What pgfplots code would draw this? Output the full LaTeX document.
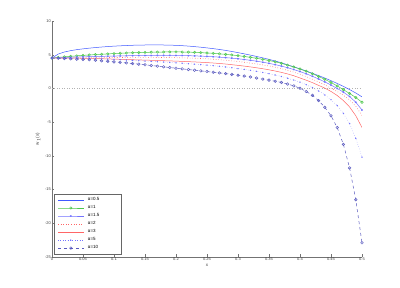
\documentclass[border=0pt]{standalone}
\usepackage{fontspec}
\setmainfont{Liberation Sans}
\usepackage{pgfplots}
\usepackage{pgfplotstable}
\pgfplotsset{compat=1.18}
\pgfplotstableread{
x a05 a1 a15 a2 a3 a5 a10
0.00 4.50 4.50 4.50 4.50 4.50 4.50 4.50
0.01 5.10 4.60 4.54 4.51 4.50 4.50 4.47
0.02 5.40 4.68 4.58 4.52 4.50 4.49 4.43
0.03 5.60 4.76 4.62 4.53 4.49 4.48 4.39
0.04 5.75 4.83 4.65 4.54 4.48 4.47 4.34
0.05 5.87 4.90 4.68 4.55 4.47 4.45 4.30
0.06 5.97 4.96 4.71 4.56 4.45 4.43 4.25
0.07 6.06 5.02 4.74 4.57 4.43 4.41 4.18
0.08 6.14 5.07 4.76 4.57 4.41 4.38 4.10
0.09 6.21 5.12 4.78 4.58 4.38 4.34 4.02
0.10 6.27 5.17 4.80 4.58 4.35 4.30 3.94
0.11 6.32 5.21 4.82 4.59 4.32 4.26 3.86
0.12 6.36 5.25 4.84 4.59 4.29 4.21 3.78
0.13 6.40 5.29 4.86 4.60 4.26 4.16 3.69
0.14 6.42 5.32 4.87 4.60 4.23 4.11 3.60
0.15 6.44 5.35 4.88 4.60 4.20 4.06 3.50
0.16 6.45 5.37 4.89 4.60 4.17 4.01 3.40
0.17 6.45 5.39 4.90 4.59 4.14 3.96 3.30
0.18 6.44 5.40 4.90 4.59 4.11 3.91 3.20
0.19 6.42 5.41 4.90 4.58 4.08 3.86 3.10
0.20 6.39 5.41 4.89 4.56 4.05 3.80 3.00
0.21 6.34 5.40 4.88 4.54 4.01 3.74 2.90
0.22 6.28 5.38 4.86 4.51 3.97 3.67 2.80
0.23 6.20 5.35 4.83 4.48 3.93 3.60 2.70
0.24 6.11 5.31 4.79 4.44 3.88 3.53 2.60
0.25 6.01 5.26 4.75 4.40 3.83 3.45 2.50
0.26 5.90 5.20 4.70 4.33 3.77 3.37 2.40
0.27 5.78 5.13 4.64 4.26 3.70 3.28 2.30
0.28 5.64 5.05 4.57 4.18 3.62 3.18 2.20
0.29 5.48 4.96 4.49 4.09 3.52 3.07 2.08
0.30 5.31 4.86 4.40 3.99 3.42 2.95 1.96
0.31 5.13 4.74 4.29 3.88 3.31 2.82 1.83
0.32 4.94 4.61 4.17 3.76 3.19 2.68 1.70
0.33 4.74 4.47 4.04 3.63 3.06 2.53 1.54
0.34 4.53 4.31 3.89 3.49 2.92 2.37 1.38
0.35 4.31 4.14 3.72 3.33 2.76 2.19 1.23
0.36 4.07 3.95 3.53 3.15 2.58 1.99 1.07
0.37 3.80 3.72 3.31 2.93 2.38 1.77 0.88
0.38 3.50 3.45 3.07 2.68 2.15 1.52 0.65
0.39 3.20 3.18 2.80 2.41 1.88 1.24 0.38
0.40 2.90 2.88 2.50 2.12 1.55 0.92 0.02
0.41 2.58 2.55 2.17 1.75 1.22 0.55 -0.45
0.42 2.25 2.18 1.80 1.37 0.86 0.12 -1.02
0.43 1.90 1.78 1.40 0.96 0.45 -0.38 -1.80
0.44 1.54 1.35 0.97 0.52 0.05 -0.97 -2.80
0.45 1.15 0.88 0.50 0.05 -0.45 -1.68 -4.05
0.46 0.74 0.37 0.00 -0.45 -1.05 -2.55 -5.80
0.47 0.30 -0.18 -0.55 -1.02 -1.80 -3.70 -8.30
0.48 -0.17 -0.75 -1.20 -1.70 -2.75 -5.20 -11.80
0.49 -0.68 -1.35 -2.05 -2.65 -4.05 -7.40 -16.50
0.50 -1.25 -2.05 -3.20 -4.00 -5.80 -10.20 -22.90
}\datatable
\definecolor{cA}{rgb}{0.25,0.35,1}
\definecolor{cB}{rgb}{0.3,0.78,0.3}
\definecolor{cC}{rgb}{0.45,0.45,1}
\definecolor{cD}{rgb}{1,0.4,0.4}
\definecolor{cE}{rgb}{0.35,0.35,0.75}
\begin{document}
\begin{tikzpicture}
\useasboundingbox (-52pt,-31pt) rectangle (348pt,257pt);
\begin{axis}[
  scale only axis, width=310pt, height=236pt,
  xmin=0, xmax=0.5, ymin=-25, ymax=10,
  axis x line*=bottom, axis y line*=left,
  axis line style={black!55, line width=0.5pt},
  tick align=inside, major tick length=2.5pt,
  every tick/.style={black!55, line width=0.4pt},
  xtick={0,0.05,...,0.5},
  xticklabels={0,0.05,0.1,0.15,0.2,0.25,0.3,0.35,0.4,0.45,0.5},
  ytick={-25,-20,...,10},
  /pgf/number format/assume math mode=true,
  tick label style={font=\fontsize{4}{5}\selectfont, text=black!75, inner sep=1pt},
  xlabel={x}, ylabel={w$_1$(x)},
  label style={font=\fontsize{4.5}{5}\selectfont, text=black!75},
  xlabel style={at={(axis description cs:0.5,-0.034)}, anchor=center},
  ylabel style={at={(axis description cs:-0.045,0.5)}, anchor=center},
  legend style={at={(0.008,0.012)}, anchor=south west, draw=black!60, line width=0.5pt,
    font=\fontsize{4.5}{5}\selectfont, row sep=-0.6pt, inner xsep=3pt, inner ysep=1.5pt,
    /tikz/every odd column/.append style={column sep=2pt}},
  legend cell align=left,
  legend image code/.code={\draw[mark repeat=2,mark phase=2,#1] plot coordinates {(0cm,0cm) (0.45cm,0cm) (0.9cm,0cm)};},
]
\addplot[black!30, dotted, line width=0.5pt, forget plot] coordinates {(0,0) (0.5,0)};
\addplot[cA, line width=0.5pt] table[x=x,y=a05] {\datatable};
\addlegendentry{\makebox[28pt][l]{α=0.5}}
\addplot[cB, line width=0.5pt, mark=o, mark size=1.2pt] table[x=x,y=a1] {\datatable};
\addlegendentry{α=1}
\addplot[cC, line width=0.5pt, mark=asterisk, mark size=0.9pt] table[x=x,y=a15] {\datatable};
\addlegendentry{α=1.5}
\addplot[cD, dotted, line width=0.6pt] table[x=x,y=a2] {\datatable};
\addlegendentry{α=2}
\addplot[cD, line width=0.5pt] table[x=x,y=a3] {\datatable};
\addlegendentry{α=3}
\addplot[cC, dotted, line width=0.4pt, mark=*, mark size=0.45pt, mark options={solid}] table[x=x,y=a5] {\datatable};
\addlegendentry{α=5}
\addplot[cE, dashed, line width=0.5pt, mark=o, mark size=1.3pt, mark options={solid}] table[x=x,y=a10] {\datatable};
\addlegendentry{α=10}
\end{axis}
\end{tikzpicture}
\end{document}
